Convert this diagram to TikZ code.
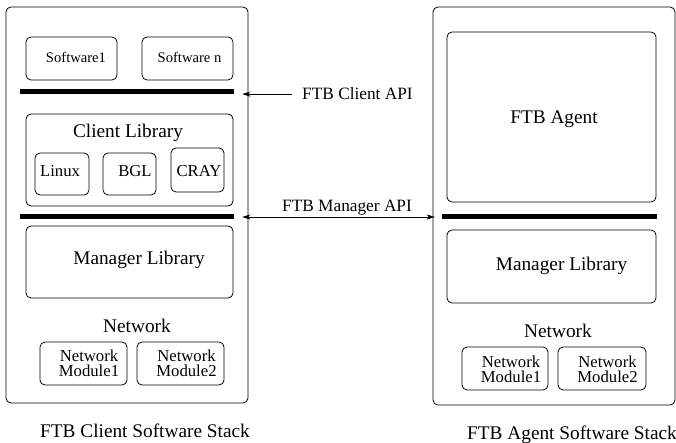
\documentclass[tikz,border=0pt]{standalone}
\usepackage{fontspec}
\setmainfont{Liberation Serif}
\usetikzlibrary{arrows.meta}
\begin{document}
\begin{tikzpicture}[x=1pt,y=-1pt,
  box/.style={draw, rounded corners=5pt, line width=0.8pt, inner sep=0pt},
  bar/.style={fill=black, inner sep=0pt, minimum height=5pt},
  big/.style={font=\fontsize{19.3}{22}\selectfont, inner sep=0pt, anchor=base},
  mid/.style={font=\fontsize{16.7}{14}\selectfont, inner sep=0pt, anchor=base},
  sml/.style={font=\fontsize{14.6}{16}\selectfont, inner sep=0pt, anchor=base},
  api/.style={font=\fontsize{17.3}{20}\selectfont, inner sep=0pt},
  mod/.style={font=\fontsize{16.7}{15}\selectfont, inner sep=0pt, align=center},
  arr/.style={line width=0.8pt, -{Stealth[length=8pt,width=5pt,inset=2pt]}},
  darr/.style={line width=0.8pt, {Stealth[length=8pt,width=5pt,inset=2pt]}-{Stealth[length=8pt,width=5pt,inset=2pt]}}
]
\useasboundingbox (0,0) rectangle (676,443);

% left stack
\node[box, minimum width=242pt, minimum height=396pt] (louter) at (127,205) {};
\node[box, minimum width=91pt, minimum height=43pt] (sw1) at (71.5,58.5) {};
\node[box, minimum width=91pt, minimum height=43pt] (swn) at (187.5,58.5) {};
\node[sml] (sw1t) at (76,63) {Software1};
\node[sml] (swnt) at (189.5,63) {Software n};
\node[bar, minimum width=214pt] (bar1) at (127,92) {};
\node[box, minimum width=207pt, minimum height=92pt] (clib) at (129.5,160) {};
\node[big] (clibt) at (128,138) {Client Library};
\node[box, minimum width=54pt, minimum height=42pt] (linux) at (62,174) {};
\node[box, minimum width=53pt, minimum height=42pt] (bgl) at (129.5,174) {};
\node[box, minimum width=53pt, minimum height=44pt] (cray) at (197.5,170) {};
\node[mid] (linuxt) at (60,177) {Linux};
\node[mid] (bglt) at (135,177) {BGL};
\node[mid] (crayt) at (199,177) {CRAY};
\node[bar, minimum width=214pt] (bar2) at (127,217) {};
\node[box, minimum width=207pt, minimum height=72pt] (mlibl) at (129.5,262) {};
\node[big] (mliblt) at (139,265) {Manager Library};
\node[big] (netl) at (137,332) {Network};
\node[box, minimum width=87pt, minimum height=43pt] (m1l) at (83.5,363.5) {};
\node[box, minimum width=87pt, minimum height=43pt] (m2l) at (180.5,363.5) {};
\node[mod] (m1lt) at (89,363) {Network\\Module1};
\node[mod] (m2lt) at (186.5,363) {Network\\Module2};
\node[big] (capl) at (145,437) {FTB Client Software Stack};

% right stack
\node[box, minimum width=242pt, minimum height=398pt] (router) at (554,206) {};
\node[box, minimum width=209pt, minimum height=170pt] (agent) at (551.5,117) {};
\node[big] (agentt) at (554,124) {FTB Agent};
\node[bar, minimum width=215pt] (bar3) at (549.5,217) {};
\node[box, minimum width=209pt, minimum height=73pt] (mlibr) at (551.5,266.5) {};
\node[big] (mlibrt) at (561.5,270) {Manager Library};
\node[big] (netr) at (558,337) {Network};
\node[box, minimum width=86pt, minimum height=43pt] (m1r) at (505,368.5) {};
\node[box, minimum width=88pt, minimum height=43pt] (m2r) at (602,368.5) {};
\node[mod] (m1rt) at (511,369) {Network\\Module1};
\node[mod] (m2rt) at (607.5,369) {Network\\Module2};
\node[big] (capr) at (572,439) {FTB Agent Software Stack};

% APIs
\node[api, anchor=base west] (capi) at (302,100) {FTB Client API};
\node[api, anchor=base] (mapi) at (347,212) {FTB Manager API};
\draw[arr, shorten <=10pt, shorten >=8pt] (capi.west) -- (capi.west -| bar1.east);
\draw[darr, shorten <=8pt, shorten >=7pt] (bar2.east) -- (bar3.west);
\end{tikzpicture}
\end{document}
